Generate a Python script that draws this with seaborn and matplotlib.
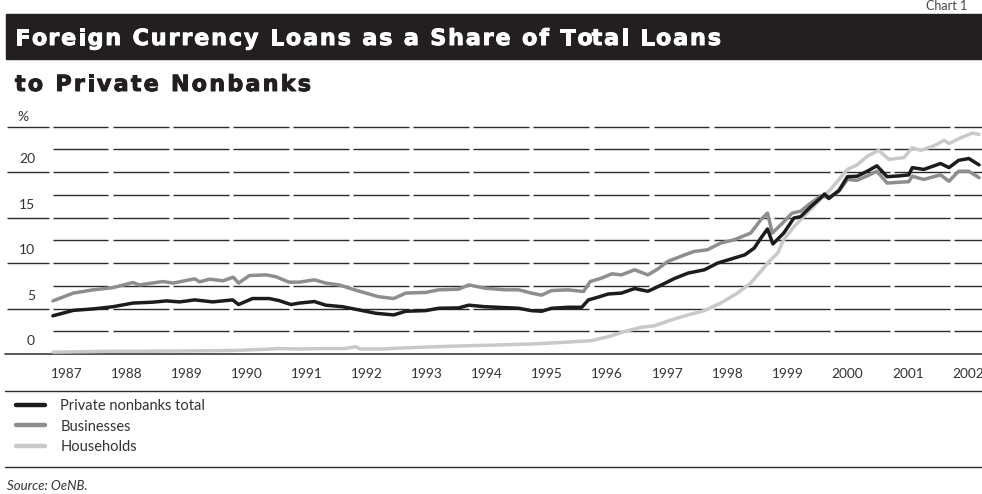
import matplotlib
matplotlib.use("Agg")
import matplotlib.pyplot as plt
import matplotlib.patheffects as pe
import seaborn as sns
import pandas as pd
from matplotlib.lines import Line2D
from matplotlib.patches import Rectangle
from matplotlib.font_manager import FontProperties

# --- data (fractional years, percent) ---
total_t = [1987.04, 1987.38, 1987.71, 1988.04, 1988.37, 1988.70, 1988.93, 1989.15, 1989.40,
           1989.70, 1990.03, 1990.13, 1990.36, 1990.64, 1990.80, 1991.00, 1991.14, 1991.39,
           1991.58, 1991.86, 1992.13, 1992.41, 1992.71, 1992.91, 1993.24, 1993.46, 1993.79,
           1993.96, 1994.23, 1994.57, 1994.79, 1995.00, 1995.17, 1995.34, 1995.61, 1995.84,
           1995.95, 1996.11, 1996.28, 1996.50, 1996.72, 1996.94, 1997.16, 1997.38, 1997.61,
           1997.88, 1998.10, 1998.32, 1998.55, 1998.71, 1998.82, 1998.93, 1999.02, 1999.20,
           1999.37, 1999.48, 1999.65, 1999.82, 1999.88, 1999.95, 2000.12, 2000.26, 2000.42,
           2000.59, 2000.75, 2000.92, 2001.14, 2001.28, 2001.34, 2001.53, 2001.81, 2001.95,
           2002.11, 2002.28, 2002.45]
total_v = [4.2, 4.8, 4.96, 5.2, 5.6, 5.7, 5.84, 5.73, 5.95,
           5.73, 5.95, 5.44, 6.1, 6.1, 5.88, 5.44, 5.6, 5.77,
           5.37, 5.2, 4.85, 4.48, 4.3, 4.7, 4.77, 5.03, 5.07,
           5.37, 5.2, 5.1, 5.03, 4.77, 4.7, 5.03, 5.14, 5.14,
           5.95, 6.25, 6.6, 6.7, 7.2, 6.9, 7.57, 8.3, 8.9,
           9.26, 10.0, 10.44, 10.9, 11.65, 12.75, 13.75, 12.1, 13.3,
           14.96, 15.1, 16.2, 17.2, 17.6, 17.1, 18.0, 19.5, 19.55,
           20.1, 20.7, 19.5, 19.6, 19.7, 20.5, 20.3, 20.95, 20.5,
           21.3, 21.5, 20.8]

business_t = [1987.04, 1987.38, 1987.71, 1988.04, 1988.37, 1988.48, 1988.87, 1989.04, 1989.40,
              1989.48, 1989.65, 1989.87, 1990.04, 1990.13, 1990.31, 1990.59, 1990.75, 1990.97,
              1991.14, 1991.39, 1991.58, 1991.80, 1992.10, 1992.46, 1992.71, 1992.91, 1993.24,
              1993.46, 1993.79, 1993.96, 1994.23, 1994.57, 1994.79, 1995.00, 1995.17, 1995.34,
              1995.61, 1995.87, 1995.98, 1996.17, 1996.34, 1996.50, 1996.72, 1996.94, 1997.10,
              1997.27, 1997.55, 1997.71, 1997.93, 1998.15, 1998.38, 1998.65, 1998.82, 1998.93,
              1999.01, 1999.18, 1999.34, 1999.48, 1999.65, 1999.82, 1999.95, 2000.12, 2000.26,
              2000.42, 2000.59, 2000.75, 2000.92, 2001.14, 2001.28, 2001.34, 2001.53, 2001.81,
              2001.95, 2002.11, 2002.28, 2002.45]
business_v = [5.84, 6.7, 7.06, 7.3, 7.86, 7.6, 7.97, 7.8, 8.27,
              7.94, 8.23, 8.05, 8.45, 7.8, 8.63, 8.7, 8.5, 7.9,
              7.9, 8.16, 7.8, 7.6, 6.98, 6.3, 6.1, 6.7, 6.77,
              7.06, 7.13, 7.6, 7.24, 7.06, 7.06, 6.7, 6.47, 6.98,
              7.06, 6.87, 7.97, 8.35, 8.82, 8.7, 9.26, 8.7, 9.33,
              10.18, 10.9, 11.28, 11.46, 12.2, 12.57, 13.3, 14.77, 15.5,
              13.3, 14.4, 15.5, 15.7, 16.6, 17.4, 17.2, 17.9, 19.2,
              19.1, 19.6, 20.1, 18.8, 18.9, 18.95, 19.55, 19.2, 19.7,
              19.0, 20.1, 20.1, 19.4]

household_t = [1987.04, 1987.5, 1988.0, 1988.5, 1989.0, 1989.5, 1990.0, 1990.5, 1990.8,
               1991.14, 1991.5, 1991.9, 1992.08, 1992.15, 1992.5, 1993.0, 1993.5, 1994.0,
               1994.5, 1995.0, 1995.45, 1996.0, 1996.28, 1996.55, 1996.83, 1997.05, 1997.33,
               1997.61, 1997.88, 1998.15, 1998.43, 1998.65, 1998.82, 1998.96, 1999.1, 1999.2,
               1999.37, 1999.59, 1999.81, 1999.98, 2000.26, 2000.42, 2000.59, 2000.78, 2000.95,
               2001.2, 2001.34, 2001.48, 2001.7, 2001.87, 2001.95, 2002.15, 2002.34, 2002.45]
household_v = [0.2, 0.25, 0.3, 0.3, 0.32, 0.35, 0.38, 0.5, 0.6,
               0.55, 0.6, 0.6, 0.8, 0.55, 0.55, 0.7, 0.82, 0.92,
               1.0, 1.1, 1.25, 1.47, 1.9, 2.46, 2.94, 3.1, 3.75,
               4.3, 4.77, 5.6, 6.7, 7.8, 9.1, 10.2, 11.1, 12.57,
               14.0, 15.5, 17.0, 18.1, 20.3, 20.8, 21.75, 22.4, 21.4,
               21.6, 22.7, 22.4, 22.9, 23.5, 23.15, 23.8, 24.3, 24.15]

series_names = ["Private nonbanks total", "Businesses", "Households"]
series_colors = ["#1c1c1c", "#8e8e8e", "#c9c9c9"]
years = list(range(1987, 2003))
year_labels = [str(y) for y in years]
y_levels = [2.5 * i for i in range(1, 11)]
y_labels = ["0", "5", "10", "15", "20"]

W, H = 982, 494
sns.set_theme(style="white")
plt.rcParams["font.family"] = ["Lato", "DejaVu Sans"]

fig = plt.figure(figsize=(W / 100, H / 100), dpi=100)


def fx(px):
    return px / W


def fy(py):
    return 1 - py / H


def tracked_text(x0, y_base, s, target_w, family, **kw):
    """Draw s letter by letter, spread to target_w pixels (the print title is letter-spaced)."""
    renderer = fig.canvas.get_renderer()
    prop = FontProperties(family=family, size=kw.get("fontsize"),
                          weight=kw.get("fontweight", "normal"))

    def width(txt):
        w, _, _ = renderer.get_text_width_height_descent(txt + "x", prop, ismath=False)
        wx, _, _ = renderer.get_text_width_height_descent("x", prop, ismath=False)
        return w - wx

    natural = width(s)
    track = (target_w - natural) / (len(s) - 1)
    stroke = [pe.withStroke(linewidth=0.7, foreground=kw.get("color"))]
    for i, ch in enumerate(s):
        if ch == " ":
            continue
        xp = x0 + width(s[:i]) + i * track
        fig.text(fx(xp), fy(y_base), ch, ha="left", va="baseline", family=family,
                 path_effects=stroke, **kw)


year_px = 60.1
ax_left, ax_right, ax_top, ax_bottom = 50.5, 982, 126.7, 354
ax = fig.add_axes([fx(ax_left), fy(ax_bottom), fx(ax_right - ax_left), (ax_bottom - ax_top) / H])
xmax = 1987 + (ax_right - ax_left) / year_px
ax.set_xlim(1987, xmax)
ax.set_ylim(0, 25)
for s in ax.spines.values():
    s.set_visible(False)

# broken horizontal rules, one piece per year
grid_col = "#2b2b2b"
gap = 0.035
for lvl in y_levels:
    for yr in years:
        ax.plot([yr + gap, min(yr + 1 - gap, xmax)], [lvl, lvl], color=grid_col, lw=1.0,
                clip_on=False, zorder=1, solid_capstyle="butt")
ax_w = ax_right - ax_left
for lvl in [5, 10, 15, 20, 25]:
    ax.plot([(6.5 - ax_left) / ax_w, (48.5 - ax_left) / ax_w], [lvl, lvl], color=grid_col,
            lw=1.0, transform=ax.get_yaxis_transform(), clip_on=False, solid_capstyle="butt")
ax.plot([(5 - ax_left) / ax_w, 1], [0, 0], color="#3a3a3a", lw=1.2,
        transform=ax.get_yaxis_transform(), clip_on=False, zorder=1)

frames = [
    pd.DataFrame({"t": household_t, "v": household_v}),
    pd.DataFrame({"t": business_t, "v": business_v}),
    pd.DataFrame({"t": total_t, "v": total_v}),
]
order = [2, 1, 0]
for df, idx in zip(frames, order):
    sns.lineplot(data=df, x="t", y="v", ax=ax, color=series_colors[idx], lw=2.5,
                 label=series_names[idx], zorder=3 + (2 - idx), clip_on=False)
ax.get_legend().remove()

text_col = "#333333"
ax.set_xlabel("")
ax.set_ylabel("")
ax.set_yticks([])
ax.set_xticks(years)
ax.set_xticklabels(year_labels, ha="left", fontsize=9.8, color=text_col)
ax.tick_params(axis="x", length=0, pad=10)

for i, lab in enumerate(y_labels):
    ax.text((35 - ax_left) / ax_w, 5 * i + 1.4, lab, transform=ax.get_yaxis_transform(),
            ha="right", va="center", fontsize=10, color=text_col)
ax.text((17 - ax_left) / ax_w, 26.1, "%", transform=ax.get_yaxis_transform(),
        ha="left", va="center", fontsize=10, color=text_col, clip_on=False)

# title block
fig.patches.append(Rectangle((fx(6), fy(59.5)), fx(W - 6), (59.5 - 14) / H,
                             transform=fig.transFigure, color="#231f20", zorder=0))
tracked_text(15, 45, "Foreign Currency Loans as a Share of Total Loans", 706, "DejaVu Sans",
             color="white", fontsize=16, fontweight="bold")
tracked_text(15, 91, "to Private Nonbanks", 296, "DejaVu Sans",
             color="#231f20", fontsize=16, fontweight="bold")
fig.text(fx(926), fy(10), "Chart 1", fontsize=9, color="#444444", ha="left", va="baseline")

# rules, legend and source
for py in [390.7, 467.3]:
    fig.add_artist(Line2D([fx(5), 1], [fy(py), fy(py)], color="#2b2b2b", lw=1.0,
                          transform=fig.transFigure))

leg_handles = [Line2D([], [], color=c, lw=3.2) for c in series_colors]
fig.legend(leg_handles, series_names, loc="upper left", bbox_to_anchor=(fx(16), fy(399)),
           frameon=False, fontsize=10.5, handlelength=2.0, handletextpad=1.05,
           labelspacing=0.45, borderpad=0, borderaxespad=0, labelcolor=text_col)

fig.text(fx(7), fy(486), "Source: OeNB.", fontsize=9.5, style="italic", color=text_col,
         ha="left", va="center")

fig.savefig("out.png", dpi=100)
